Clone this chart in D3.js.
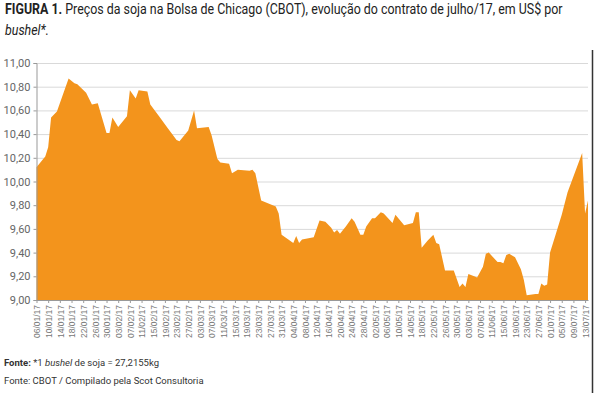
<!DOCTYPE html>
<html>
<head>
<meta charset="utf-8">
<script src="https://cdn.jsdelivr.net/npm/d3@7"></script>
<style>
  body { margin: 0; background: #fff; }
  svg { display: block; font-family: Roboto, "Open Sans", sans-serif; }
</style>
</head>
<body>
<div id="chart-container"></div>
<script>
// soybean price, CBOT, contract July/17 (US$ per bushel)
const dates = ["06/01/17","09/01/17","10/01/17","11/01/17","13/01/17","17/01/17","19/01/17","20/01/17","23/01/17","25/01/17",
  "27/01/17","30/01/17","31/01/17","01/02/17","03/02/17","06/02/17","07/02/17","09/02/17","10/02/17","13/02/17",
  "14/02/17","17/02/17","20/02/17","23/02/17","24/02/17","27/02/17","01/03/17","02/03/17","06/03/17","07/03/17",
  "09/03/17","10/03/17","13/03/17","14/03/17","16/03/17","20/03/17","21/03/17","22/03/17","24/03/17","29/03/17",
  "30/03/17","31/03/17","04/04/17","05/04/17","06/04/17","07/04/17","11/04/17","13/04/17","15/04/17","17/04/17",
  "18/04/17","19/04/17","20/04/17","22/04/17","24/04/17","25/04/17","27/04/17","28/04/17","29/04/17","01/05/17",
  "02/05/17","04/05/17","05/05/17","08/05/17","09/05/17","12/05/17","15/05/17","16/05/17","17/05/17","18/05/17",
  "20/05/17","22/05/17","23/05/17","24/05/17","26/05/17","29/05/17","31/05/17","01/06/17","02/06/17","03/06/17",
  "05/06/17","06/06/17","08/06/17","09/06/17","10/06/17","13/06/17","14/06/17","15/06/17","16/06/17","17/06/17",
  "19/06/17","21/06/17","22/06/17","23/06/17","26/06/17","27/06/17","28/06/17","29/06/17","30/06/17","01/07/17",
  "03/07/17","05/07/17","07/07/17","12/07/17","13/07/17","14/07/17"];
const prices = [10.12,10.21,10.29,10.54,10.59,10.87,10.83,10.82,10.75,10.65,
  10.66,10.41,10.41,10.54,10.46,10.55,10.77,10.70,10.77,10.76,
  10.65,10.55,10.45,10.35,10.34,10.43,10.60,10.45,10.46,10.39,
  10.19,10.16,10.15,10.07,10.10,10.09,10.10,10.07,9.84,9.79,
  9.73,9.55,9.48,9.54,9.48,9.51,9.53,9.67,9.66,9.61,
  9.57,9.59,9.56,9.62,9.69,9.66,9.55,9.55,9.62,9.69,
  9.69,9.74,9.73,9.65,9.72,9.63,9.65,9.74,9.74,9.44,
  9.50,9.55,9.48,9.47,9.25,9.25,9.11,9.14,9.11,9.22,
  9.20,9.19,9.28,9.39,9.40,9.32,9.32,9.31,9.38,9.39,
  9.36,9.26,9.17,9.04,9.05,9.05,9.14,9.12,9.13,9.40,
  9.56,9.72,9.91,10.24,9.73,9.84];

const xTicks = ["06/01/17","10/01/17","14/01/17","18/01/17","22/01/17","26/01/17","30/01/17","03/02/17","07/02/17","11/02/17",
  "15/02/17","19/02/17","23/02/17","27/02/17","03/03/17","07/03/17","11/03/17","15/03/17","19/03/17","23/03/17",
  "27/03/17","31/03/17","04/04/17","08/04/17","12/04/17","16/04/17","20/04/17","24/04/17","28/04/17","02/05/17",
  "06/05/17","10/05/17","14/05/17","18/05/17","22/05/17","26/05/17","30/05/17","03/06/17","07/06/17","11/06/17",
  "15/06/17","19/06/17","23/06/17","27/06/17","01/07/17","05/07/17","09/07/17","13/07/17"];
const yTicks = [9.0, 9.2, 9.4, 9.6, 9.8, 10.0, 10.2, 10.4, 10.6, 10.8, 11.0];

const parseDate = d3.timeParse("%d/%m/%y");
const data = dates.map((d, i) => ({ date: parseDate(d), value: prices[i] }));

const svgWidth = 595, svgHeight = 393;
const plotLeft = 36.5, plotRight = 588, plotTop = 63, plotBottom = 300;

const svg = d3.select("#chart-container").append("svg")
  .attr("width", svgWidth)
  .attr("height", svgHeight);

// title (condensed by a horizontal scale to match the narrow original font)
const titleG = svg.append("g");
const title = titleG.append("text")
  .attr("x", 0).attr("y", 0)
  .attr("font-size", 14).attr("fill", "#222");
title.append("tspan").attr("font-weight", "bold").text("FIGURA 1.");
title.append("tspan").text(" Preços da soja na Bolsa de Chicago (CBOT), evolução do contrato de julho/17, em US$ por");
titleG.append("text")
  .attr("x", 0).attr("y", 21)
  .attr("font-size", 14).attr("fill", "#222").attr("font-style", "italic")
  .text("bushel*.");
let sx = 558 / title.node().getComputedTextLength();
titleG.attr("transform", "translate(5,14) scale(" + sx + ",1)");

// scales
const xScale = d3.scaleTime()
  .domain([parseDate("06/01/17"), parseDate("14/07/17")])
  .range([plotLeft, plotRight]);
const yScale = d3.scaleLinear()
  .domain([9, 11])
  .range([plotBottom, plotTop]);

// gridlines
svg.append("g")
  .selectAll("line")
  .data(yTicks.slice(1))
  .enter().append("line")
  .attr("x1", plotLeft).attr("x2", plotRight)
  .attr("y1", d => yScale(d) + 0.5).attr("y2", d => yScale(d) + 0.5)
  .attr("stroke", "#d9d9d9").attr("stroke-width", 1);

// area
const area = d3.area()
  .x(d => xScale(d.date))
  .y0(yScale(9))
  .y1(d => yScale(d.value));
svg.append("path")
  .datum(data)
  .attr("d", area)
  .attr("fill", "#F3941C");

// y axis
const yAxis = d3.axisLeft(yScale)
  .tickValues(yTicks)
  .tickSize(3)
  .tickPadding(3)
  .tickFormat(d => d.toFixed(2).replace(".", ","));
const gy = svg.append("g")
  .attr("transform", "translate(" + plotLeft + ",0)")
  .call(yAxis);
gy.selectAll("text").attr("font-size", 11).attr("fill", "#666").style("font-family", "Roboto, sans-serif");
gy.selectAll("line, path").attr("stroke", "#999");

// x axis
const xAxis = d3.axisBottom(xScale)
  .tickValues(xTicks.map(parseDate))
  .tickSize(3)
  .tickSizeOuter(0)
  .tickFormat(d3.timeFormat("%d/%m/%y"));
const gx = svg.append("g")
  .attr("transform", "translate(0," + plotBottom + ")")
  .call(xAxis);
gx.selectAll("line, path").attr("stroke", "#999");
gx.selectAll("text")
  .attr("transform", "rotate(-90)")
  .attr("x", -5).attr("y", 0).attr("dy", "0.35em")
  .attr("text-anchor", "end")
  .attr("font-size", 9).attr("fill", "#777")
  .attr("textLength", 33).attr("lengthAdjust", "spacingAndGlyphs");

// right frame line
svg.append("line")
  .attr("x1", 592.5).attr("x2", 592.5)
  .attr("y1", 50).attr("y2", svgHeight)
  .attr("stroke", "#333").attr("stroke-width", 1.5);

// footer
const note = svg.append("text")
  .attr("x", 4).attr("y", 366)
  .attr("font-size", 9.5).attr("fill", "#333");
note.append("tspan").attr("font-weight", "bold").text("Fonte:");
note.append("tspan").text(" *1 ");
note.append("tspan").attr("font-style", "italic").text("bushel");
note.append("tspan").text(" de soja = 27,2155kg");
svg.append("text")
  .attr("x", 4).attr("y", 384)
  .attr("font-size", 9.5).attr("fill", "#333")
  .text("Fonte: CBOT / Compilado pela Scot Consultoria");
</script>
</body>
</html>
